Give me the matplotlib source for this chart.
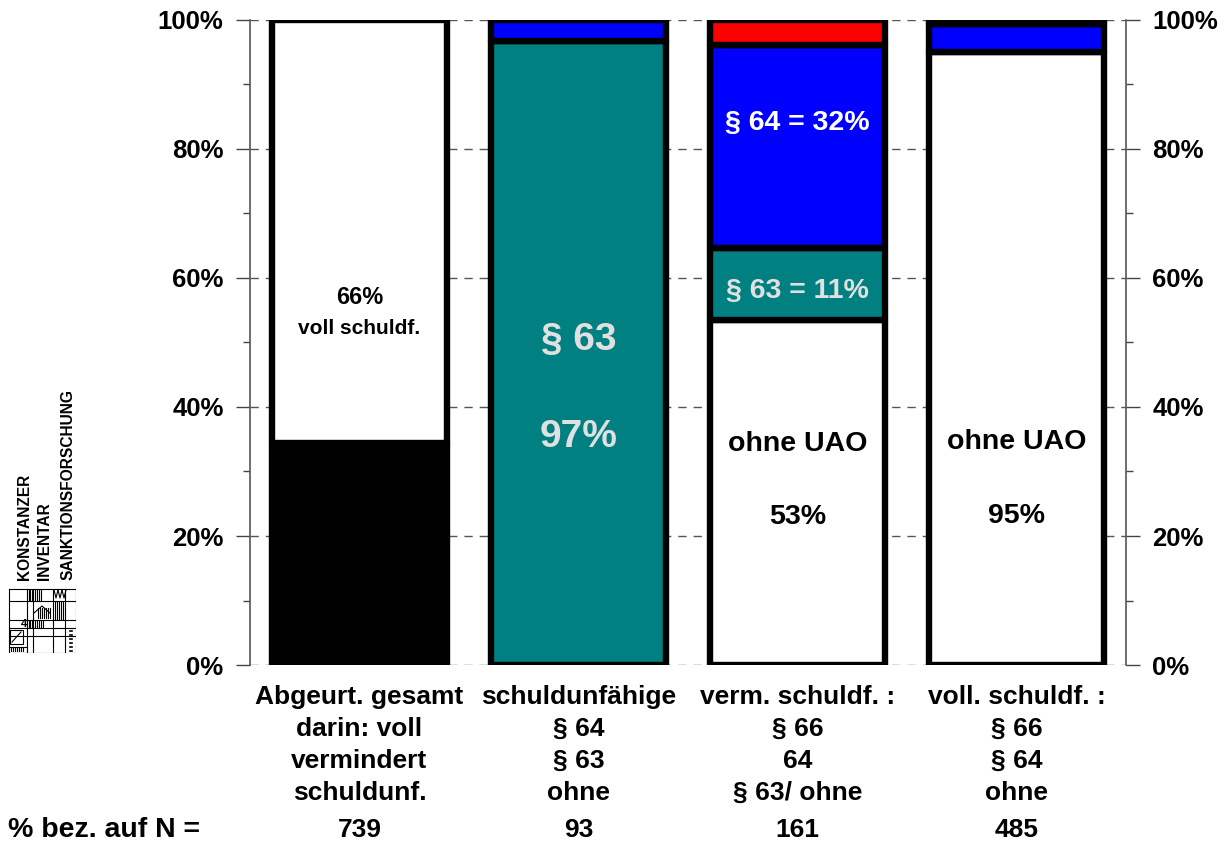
import matplotlib
matplotlib.use("Agg")
import matplotlib.pyplot as plt
from matplotlib.transforms import blended_transform_factory

plt.rcParams['font.family'] = ['Liberation Sans', 'DejaVu Sans']
plt.rcParams['font.weight'] = 'bold'

# ---------------- data ----------------
categories = ["Abgeurt. gesamt", "schuldunfähige", "verm. schuldf. :", "voll. schuldf. :"]
sub_labels = [
    ["darin: voll", "vermindert", "schuldunf."],
    ["§ 64", "§ 63", "ohne"],
    ["§ 66", "64", "§ 63/ ohne"],
    ["§ 66", "§ 64", "ohne"],
]
n_values = [739, 93, 161, 485]

# stacked segments, bottom to top
seg_gesamt = [34.4, 65.6]            # vermindert+schuldunf., voll schuldf.
seg_schuldunf = [96.8, 3.2]          # § 63, § 64
seg_verm = [53.5, 11.2, 31.5, 3.8]   # ohne, § 63, § 64, § 66
seg_voll = [95.1, 4.3, 0.6]          # ohne, § 64, § 66

y_ticks = [0, 20, 40, 60, 80, 100]
y_tick_labels = ["0%", "20%", "40%", "60%", "80%", "100%"]

# ---------------- style ----------------
BLACK, WHITE, TEAL, BLUE, RED = "#000000", "#FFFFFF", "#008080", "#0000FF", "#FF0000"
seg_colors = [
    [BLACK, WHITE],
    [TEAL, BLUE],
    [WHITE, TEAL, BLUE, RED],
    [WHITE, BLUE, BLACK],
]
all_segments = [seg_gesamt, seg_schuldunf, seg_verm, seg_voll]

W, H = 1232, 846
fig = plt.figure(figsize=(W / 100, H / 100), dpi=100)
ax = fig.add_axes([250 / W, (H - 665) / H, 876 / W, 645 / H])
ax.set_xlim(-0.5, 3.5)
ax.set_ylim(0, 100)

for i, (segs, cols) in enumerate(zip(all_segments, seg_colors)):
    bottom = 0
    for v, c in zip(segs, cols):
        b = ax.bar(i, v, bottom=bottom, width=0.8, color=c, edgecolor="black",
                   linewidth=4.6, zorder=3)
        for p in b:
            p.set_joinstyle("round")
        bottom += v

# grid + axes
ax.set_axisbelow(True)
ax.set_yticks(y_ticks)
ax.set_yticklabels(y_tick_labels)
ax.set_yticks([10, 30, 50, 70, 90], minor=True)
ax.yaxis.grid(True, which="major", linestyle=(0, (6, 5)), color="#555555", linewidth=1.0, zorder=0)
ax.tick_params(axis="y", which="major", direction="out", length=10, width=1.0, color="#444444",
               left=True, right=True, labelleft=True, labelright=True, labelsize=18.5, pad=9)
ax.tick_params(axis="y", which="minor", direction="out", length=5, width=1.0, color="#444444",
               left=True, right=True)
ax.set_xticks([])
for s in ["top", "bottom"]:
    ax.spines[s].set_visible(False)
for s in ["left", "right"]:
    ax.spines[s].set_color("#555555")
    ax.spines[s].set_linewidth(1.2)
for lab in ax.get_yticklabels():
    lab.set_fontweight("bold")

# labels inside bars
ax.text(0, 56.9, "66%", ha="center", va="center", fontsize=17, fontweight="bold", color="black", zorder=5)
ax.text(0, 52.2, "voll schuldf.", ha="center", va="center", fontsize=15, fontweight="bold", color="black", zorder=5)
ax.text(1, 50.4, "§ 63", ha="center", va="center", fontsize=28, fontweight="bold", color="#E0E0E0", zorder=5)
ax.text(1, 35.3, "97%", ha="center", va="center", fontsize=28, fontweight="bold", color="#E0E0E0", zorder=5)
ax.text(2, 84.0, "§ 64 = 32%", ha="center", va="center", fontsize=20.5, fontweight="bold", color="white", zorder=5)
ax.text(2, 58.0, "§ 63 = 11%", ha="center", va="center", fontsize=20.5, fontweight="bold", color="#E0E0E0", zorder=5)
ax.text(2, 34.3, "ohne UAO", ha="center", va="center", fontsize=20.5, fontweight="bold", color="black", zorder=5)
ax.text(2, 22.9, "53%", ha="center", va="center", fontsize=20.5, fontweight="bold", color="black", zorder=5)
ax.text(3, 34.6, "ohne UAO", ha="center", va="center", fontsize=20.5, fontweight="bold", color="black", zorder=5)
ax.text(3, 23.1, "95%", ha="center", va="center", fontsize=20.5, fontweight="bold", color="black", zorder=5)

# category labels below axis
tr = blended_transform_factory(ax.transData, ax.transAxes)
def ax_y(pix):
    return (665 - pix) / 645.0
row_pix = [697, 729, 761, 793]
for i, cat in enumerate(categories):
    lines = [cat] + sub_labels[i]
    for j, line in enumerate(lines):
        ax.text(i, ax_y(row_pix[j]), line, transform=tr, ha="center", va="center",
                fontsize=19, fontweight="bold", clip_on=False)
    ax.text(i, ax_y(830), str(n_values[i]), transform=tr, ha="center", va="center",
            fontsize=19, fontweight="bold", clip_on=False)
fig.text(8 / W, (H - 830) / H, "% bez. auf N =", ha="left", va="center", fontsize=20.5, fontweight="bold")

# logo text
for xc, txt in [(25, "KONSTANZER"), (44, "INVENTAR"), (68, "SANKTIONSFORSCHUNG")]:
    fig.text(xc / W, (H - 580) / H, txt, rotation=90, ha="center", va="bottom",
             fontsize=11.2, fontweight="bold")

# logo emblem
lax = fig.add_axes([8 / W, (H - 653) / H, 68 / W, 65 / H])
lax.set_xlim(0, 68)
lax.set_ylim(65, 0)
lax.axis("off")
lk = dict(color="black", linewidth=0.8)
lax.plot([0.5, 67.5, 67.5, 0.5, 0.5], [0.5, 0.5, 64.5, 64.5, 0.5], **lk)
for x in [19, 25, 45, 57]:
    lax.plot([x, x], [0.5, 64.5], **lk)
for y in [13, 32, 40, 48]:
    lax.plot([0.5, 67.5], [y, y], **lk)
for x in [20.5, 22, 23.5, 27, 29, 31, 33]:
    lax.plot([x, x], [2, 12], **lk)
for x in [30, 32, 34, 36, 38, 40, 42]:
    lax.plot([x, x], [20, 30], **lk)
for x in [47, 49, 51, 53, 55]:
    lax.plot([x, x], [14, 31], **lk)
for x in [20.5, 22, 23.5, 27, 29, 31, 33, 35]:
    lax.plot([x, x], [33, 39], **lk)
for x in [3, 5, 7, 9, 11, 13, 15]:
    lax.plot([x, x], [60, 63], **lk)
lax.plot([2, 18], [59, 59], **lk)
lax.plot([2, 15, 15, 2, 2], [42, 42, 56, 56, 42], **lk)
lax.plot([4, 13], [54, 44], **lk)
lax.text(16, 36, "4", fontsize=8, ha="center", va="center", fontweight="bold")
lax.plot([26, 34, 42], [25, 18, 25], **lk)
for y in [43, 47, 51, 55, 59, 63]:
    lax.plot([62, 64], [y, y], color="black", linewidth=1.2)
for x in [46, 50, 54]:
    lax.plot([x, x + 2, x + 4], [2, 10, 2], **lk)

fig.savefig("out.png", dpi=100)
